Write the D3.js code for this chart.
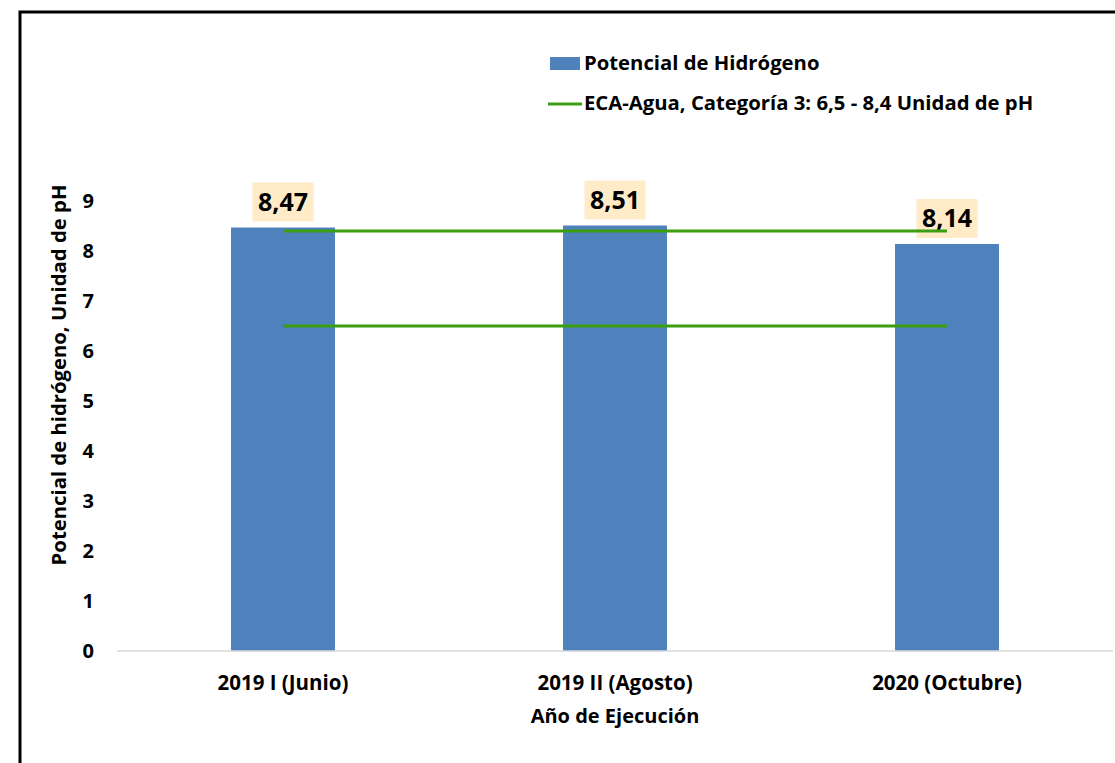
<!DOCTYPE html>
<html>
<head>
<meta charset="utf-8">
<script src="https://cdn.jsdelivr.net/npm/d3@7"></script>
<style>
  body { margin: 0; background: #fff; }
  text { font-family: "Open Sans", sans-serif; font-weight: bold; }
</style>
</head>
<body>
<div id="chart"></div>
<script>
const categories = ["2019 I (Junio)", "2019 II (Agosto)", "2020 (Octubre)"];
const phValues = [8.47, 8.51, 8.14];
const ecaMin = [6.5, 6.5, 6.5];
const ecaMax = [8.4, 8.4, 8.4];
const yTicks = [0, 1, 2, 3, 4, 5, 6, 7, 8, 9];

const width = 1115, height = 763;
const margin = {top: 201, right: 2, bottom: 112, left: 117};
const innerW = width - margin.left - margin.right;
const innerH = height - margin.top - margin.bottom;

let svg = d3.select("#chart")
    .append("svg")
    .attr("width", width)
    .attr("height", height);

// outer frame
svg.append("path")
    .attr("d", "M20,763 L20,12 L1115,12")
    .attr("fill", "none")
    .attr("stroke", "#000")
    .attr("stroke-width", 3);

let g = svg.append("g")
    .attr("transform", `translate(${margin.left}, ${margin.top})`);

let x = d3.scaleBand()
    .domain(categories)
    .range([0, innerW])
    .paddingInner(0.687)
    .paddingOuter(0.3435);

let y = d3.scaleLinear()
    .domain([0, 9])
    .range([innerH, 0]);

// y axis labels
let yAxis = g.append("g")
    .call(d3.axisLeft(y).tickValues(yTicks).tickSize(0).tickPadding(23));
yAxis.select(".domain").remove();
yAxis.selectAll("text").style("font-size", "20px").attr("fill", "#000");

// bars
g.selectAll("rect.bar")
    .data(phValues)
    .enter()
    .append("rect")
    .attr("class", "bar")
    .attr("x", (d, i) => x(categories[i]))
    .attr("y", d => y(d))
    .attr("width", x.bandwidth())
    .attr("height", d => y(0) - y(d))
    .attr("fill", "#4F81BD");

// baseline
g.append("line")
    .attr("x1", 0).attr("x2", innerW)
    .attr("y1", y(0)).attr("y2", y(0))
    .attr("stroke", "#D9D9D9")
    .attr("stroke-width", 1.5);

// x axis labels
let xAxis = g.append("g")
    .attr("transform", `translate(0, ${innerH})`)
    .call(d3.axisBottom(x).tickSize(0).tickPadding(24));
xAxis.select(".domain").remove();
xAxis.selectAll("text").style("font-size", "20.5px").attr("fill", "#000");

let cx = (d, i) => x(categories[i]) + x.bandwidth() / 2;

// value labels
let labels = g.selectAll("g.vlabel")
    .data(phValues)
    .enter()
    .append("g")
    .attr("class", "vlabel")
    .attr("transform", (d, i) => `translate(${cx(d, i)}, ${y(d) - 6})`);

labels.append("rect")
    .attr("x", -30.5).attr("y", -39)
    .attr("width", 61).attr("height", 39)
    .attr("fill", "#FFEBC8");

labels.append("text")
    .attr("y", -11)
    .attr("text-anchor", "middle")
    .style("font-size", "25px")
    .text(d => d.toFixed(2).replace(".", ","));

// ECA lines
let line = d3.line().x(cx).y(d => y(d));
[ecaMax, ecaMin].forEach(function(series) {
    g.append("path")
        .datum(series)
        .attr("d", line)
        .attr("fill", "none")
        .attr("stroke", "#3A9E0F")
        .attr("stroke-width", 3);
});

// axis titles
svg.append("text")
    .attr("transform", `translate(66, 375) rotate(-90)`)
    .attr("text-anchor", "middle")
    .style("font-size", "20.3px")
    .text("Potencial de hidrógeno, Unidad de pH");

svg.append("text")
    .attr("x", 615).attr("y", 723)
    .attr("text-anchor", "middle")
    .style("font-size", "20px")
    .text("Año de Ejecución");

// legend
let legend = svg.append("g").attr("transform", "translate(550, 0)");
legend.append("rect")
    .attr("x", 0).attr("y", 57)
    .attr("width", 30).attr("height", 13)
    .attr("fill", "#4F81BD");
legend.append("text")
    .attr("x", 34).attr("y", 70)
    .style("font-size", "20.3px")
    .text("Potencial de Hidrógeno");
legend.append("line")
    .attr("x1", -2).attr("x2", 32)
    .attr("y1", 104).attr("y2", 104)
    .attr("stroke", "#3A9E0F")
    .attr("stroke-width", 3);
legend.append("text")
    .attr("x", 34).attr("y", 110)
    .style("font-size", "20.3px")
    .text("ECA-Agua, Categoría 3: 6,5 - 8,4 Unidad de pH");
</script>
</body>
</html>
